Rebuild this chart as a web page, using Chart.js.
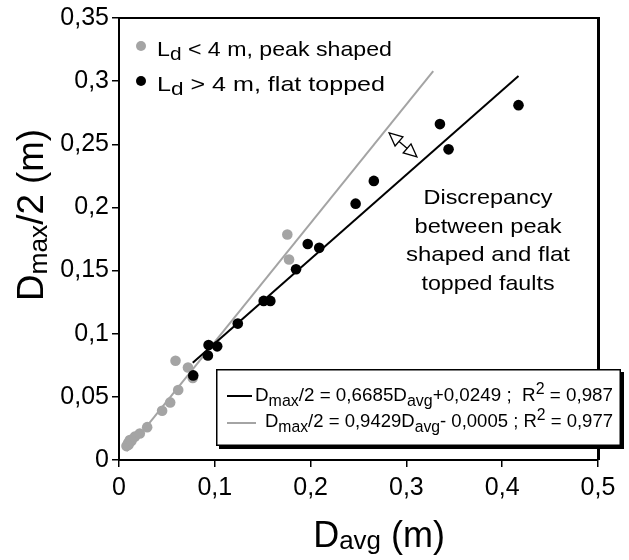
<!DOCTYPE html>
<html>
<head>
<meta charset="utf-8">
<script src="https://cdn.jsdelivr.net/npm/chart.js@4/dist/chart.umd.min.js"></script>
<style>
  html, body { margin: 0; background: #fff; }
  #wrap { width: 629px; height: 560px; }
</style>
</head>
<body>
<div id="wrap"><canvas id="chart"></canvas></div>
<script>
const FONT = '"Liberation Sans", Arial, sans-serif';
const GREY = "#a4a4a4";

// values (D_avg, D_max/2) in metres
const peakX = [0.0078, 0.0095, 0.0100, 0.0113, 0.0130, 0.0165, 0.0217, 0.0294, 0.045, 0.0534, 0.0618, 0.059, 0.072, 0.077, 0.1757, 0.1775];
const peakY = [0.011, 0.0135, 0.012, 0.0158, 0.015, 0.0185, 0.021, 0.026, 0.039, 0.0456, 0.0554, 0.0786, 0.0733, 0.065, 0.1786, 0.1588];
const flatX = [0.0775, 0.0928, 0.0935, 0.1025, 0.124, 0.151, 0.158, 0.1848, 0.197, 0.209, 0.247, 0.266, 0.335, 0.344, 0.417];
const flatY = [0.067, 0.0828, 0.091, 0.090, 0.108, 0.126, 0.126, 0.151, 0.171, 0.168, 0.203, 0.221, 0.266, 0.246, 0.281];

// fitted lines, end points as drawn
const flatFitX = [0.077, 0.417];
const flatFitY = [0.077, 0.304];
const peakFitX = [0.008, 0.328];
const peakFitY = [0.007, 0.308];

// double arrow between the two fits
const arrowX = [0.282, 0.311];
const arrowY = [0.259, 0.240];

const xTicks = [0, 0.1, 0.2, 0.3, 0.4, 0.5];
const xTickLabels = ["0", "0,1", "0,2", "0,3", "0,4", "0,5"];
const yTicks = [0, 0.05, 0.1, 0.15, 0.2, 0.25, 0.3, 0.35];
const yTickLabels = ["0", "0,05", "0,1", "0,15", "0,2", "0,25", "0,3", "0,35"];

const noteLines = ["Discrepancy", "between peak", "shaped and flat", "topped faults"];
const noteWidths = [129, 147, 164, 133];

const pts = (xs, ys) => xs.map((x, i) => ({ x, y: ys[i] }));

function richWidth(ctx, parts, size, o) {
  let w = 0;
  parts.forEach(([t, k]) => {
    ctx.font = `${k === "n" ? size : size * o.sub}px ${FONT}`;
    w += ctx.measureText(t).width;
  });
  return w;
}

// draws text runs with sub/superscripts; o.width stretches the run to a given width
function drawRich(ctx, parts, x, y, size, o) {
  const natural = richWidth(ctx, parts, size, o);
  const sx = o.width ? o.width / natural : (o.sx || 1);
  const w = natural * sx;
  const left = o.align === "center" ? x - w / 2 : o.align === "right" ? x - w : x;
  ctx.save();
  ctx.translate(left, y);
  ctx.scale(sx, 1);
  ctx.textBaseline = "alphabetic";
  ctx.textAlign = "left";
  ctx.fillStyle = "#000";
  let px = 0;
  parts.forEach(([t, k]) => {
    ctx.font = `${k === "n" ? size : size * o.sub}px ${FONT}`;
    const dy = k === "sub" ? size * o.subDy : k === "sup" ? -size * 0.36 : 0;
    ctx.fillText(t, px, dy);
    px += ctx.measureText(t).width;
  });
  ctx.restore();
}

function hollowHead(ctx, tx, ty, ang) {
  const len = 13, half = 6;
  const bx = tx - Math.cos(ang) * len, by = ty - Math.sin(ang) * len;
  ctx.beginPath();
  ctx.moveTo(tx, ty);
  ctx.lineTo(bx - Math.sin(ang) * half, by + Math.cos(ang) * half);
  ctx.lineTo(bx + Math.sin(ang) * half, by - Math.cos(ang) * half);
  ctx.closePath();
  ctx.fillStyle = "#fff";
  ctx.fill();
  ctx.stroke();
}

const decor = {
  id: "decor",
  afterDraw(chart) {
    const { ctx, chartArea: a, scales } = chart;
    ctx.save();
    ctx.fillStyle = "#000";
    // frame top / right
    ctx.fillRect(a.left, a.top - 1, a.right - a.left + 2, 2);
    ctx.fillRect(a.right - 1, a.top - 1, 3, a.bottom - a.top + 1);

    // legend
    ctx.beginPath(); ctx.fillStyle = GREY; ctx.arc(141, 46, 5, 0, Math.PI * 2); ctx.fill();
    ctx.beginPath(); ctx.fillStyle = "#000"; ctx.arc(141, 81, 5, 0, Math.PI * 2); ctx.fill();
    drawRich(ctx, [["L", "n"], ["d", "sub"], [" < 4 m, peak shaped", "n"]], 157, 56, 21, { sub: 0.9, subDy: 0.2, width: 235 });
    drawRich(ctx, [["L", "n"], ["d", "sub"], [" > 4 m, flat topped", "n"]], 157, 91, 21, { sub: 0.9, subDy: 0.2, width: 228 });

    // equation box
    const bx = 216, by = 369, bw = 405, bh = 77;
    ctx.fillStyle = "#000";
    ctx.fillRect(bx + 3, by + 3, bw, bh);
    ctx.fillStyle = "#fff";
    ctx.fillRect(bx, by, bw, bh);
    ctx.strokeStyle = "#000"; ctx.lineWidth = 1.5;
    ctx.strokeRect(bx + 0.75, by + 0.75, bw - 1.5, bh - 1.5);
    ctx.lineWidth = 2;
    ctx.beginPath(); ctx.moveTo(227, 396); ctx.lineTo(252, 396); ctx.stroke();
    ctx.strokeStyle = GREY;
    ctx.beginPath(); ctx.moveTo(227, 423); ctx.lineTo(256, 423); ctx.stroke();
    drawRich(ctx, [["D", "n"], ["max", "sub"], ["/2 = 0,6685D", "n"], ["avg", "sub"], ["+0,0249 ;  R", "n"], ["2", "sup"], [" = 0,987", "n"]], 255, 401, 19, { sub: 0.85, subDy: 0.27, width: 358 });
    drawRich(ctx, [["D", "n"], ["max", "sub"], ["/2 = 0,9429D", "n"], ["avg", "sub"], ["- 0,0005 ; R", "n"], ["2", "sup"], [" = 0,977", "n"]], 265, 427, 19, { sub: 0.85, subDy: 0.27, width: 348 });

    // annotation
    noteLines.forEach((t, i) => {
      drawRich(ctx, [[t, "n"]], 488, 204 + i * 28.7, 21, { sub: 1, subDy: 0, align: "center", width: noteWidths[i] });
    });

    // double arrow
    const x1 = scales.x.getPixelForValue(arrowX[0]), y1 = scales.y.getPixelForValue(arrowY[0]);
    const x2 = scales.x.getPixelForValue(arrowX[1]), y2 = scales.y.getPixelForValue(arrowY[1]);
    const ang = Math.atan2(y2 - y1, x2 - x1);
    ctx.strokeStyle = "#000"; ctx.lineWidth = 1.3;
    ctx.beginPath();
    ctx.moveTo(x1 + Math.cos(ang) * 12, y1 + Math.sin(ang) * 12);
    ctx.lineTo(x2 - Math.cos(ang) * 12, y2 - Math.sin(ang) * 12);
    ctx.stroke();
    hollowHead(ctx, x2, y2, ang);
    hollowHead(ctx, x1, y1, ang + Math.PI);

    // axis titles
    drawRich(ctx, [["D", "n"], ["avg", "sub"], [" (m)", "n"]], 379, 547, 36, { sub: 0.72, subDy: 0.06, align: "center" });
    ctx.save();
    ctx.translate(43, 215);
    ctx.rotate(-Math.PI / 2);
    drawRich(ctx, [["D", "n"], ["max", "sub"], ["/2 (m)", "n"]], 0, 0, 36, { sub: 0.72, subDy: 0.12, align: "center", width: 172 });
    ctx.restore();
    ctx.restore();
  },
};

new Chart(document.getElementById("chart"), {
  type: "scatter",
  data: {
    datasets: [
      { type: "line", label: "fit flat", data: pts(flatFitX, flatFitY), borderColor: "#000", borderWidth: 2, pointRadius: 0, order: 0 },
      { label: "L > 4 m, flat topped", data: pts(flatX, flatY), backgroundColor: "#000", borderWidth: 0, pointRadius: 5.3, order: 1 },
      { type: "line", label: "fit peak", data: pts(peakFitX, peakFitY), borderColor: GREY, borderWidth: 2, pointRadius: 0, order: 2 },
      { label: "L < 4 m, peak shaped", data: pts(peakX, peakY), backgroundColor: GREY, borderWidth: 0, pointRadius: 5.3, order: 3 },
    ],
  },
  options: {
    responsive: true,
    maintainAspectRatio: false,
    animation: false,
    layout: { padding: { top: 17, right: 31, left: 0, bottom: 0 } },
    plugins: { legend: { display: false }, tooltip: { enabled: false } },
    scales: {
      x: {
        type: "linear", min: 0, max: 0.5,
        afterBuildTicks: (s) => { s.ticks = xTicks.map((v) => ({ value: v })); },
        afterFit: (s) => { s.height = 100; },
        ticks: { callback: (v, i) => xTickLabels[i], font: { family: FONT, size: 25 }, color: "#000", padding: 6, maxRotation: 0 },
        grid: { drawOnChartArea: false, tickLength: 7, color: "#000", lineWidth: 1.5 },
        border: { color: "#000", width: 2 },
      },
      y: {
        type: "linear", min: 0, max: 0.35,
        afterBuildTicks: (s) => { s.ticks = yTicks.map((v) => ({ value: v })); },
        afterFit: (s) => { s.width = 119; },
        ticks: { callback: (v, i) => yTickLabels[i], font: { family: FONT, size: 25 }, color: "#000", padding: 3 },
        grid: { drawOnChartArea: false, tickLength: 7, color: "#000", lineWidth: 1.5 },
        border: { color: "#000", width: 2 },
      },
    },
  },
  plugins: [decor],
});
</script>
</body>
</html>
